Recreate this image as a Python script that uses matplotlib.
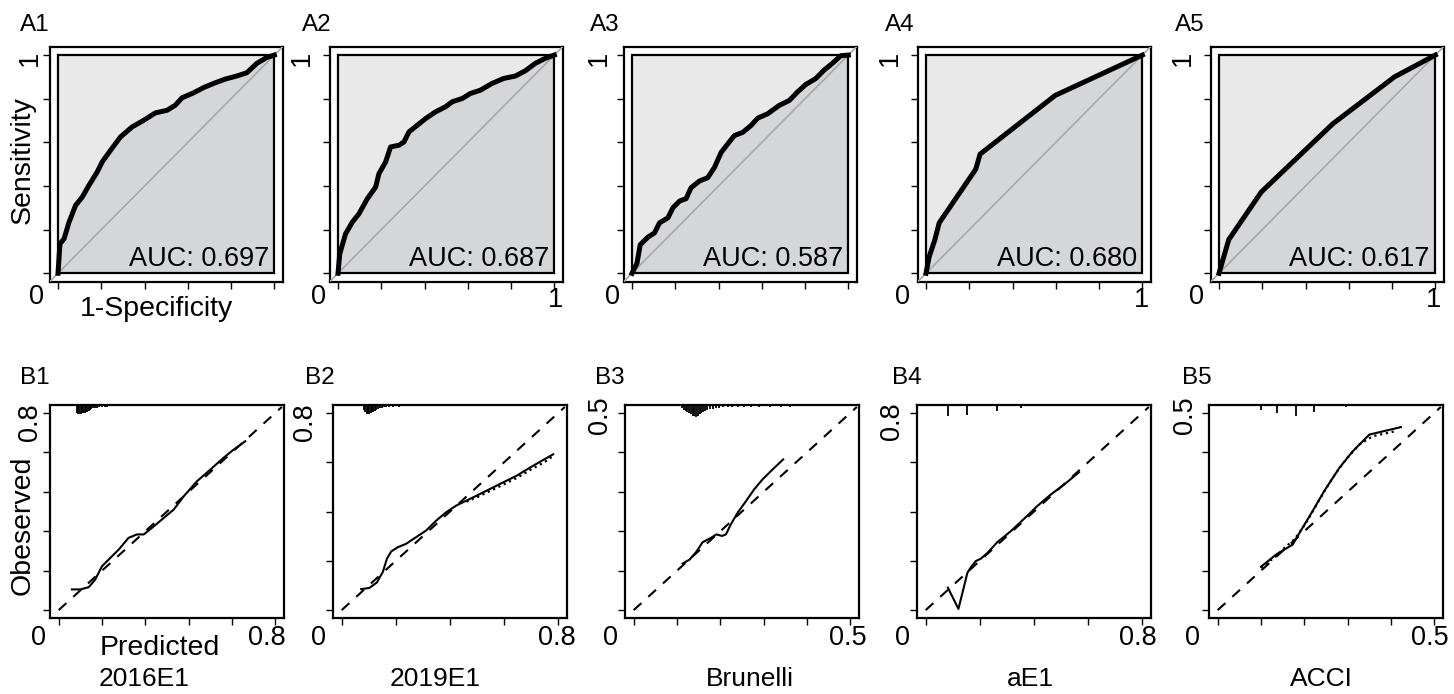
import matplotlib.pyplot as plt
from matplotlib.patches import Rectangle
import numpy as np

plt.rcParams['font.family'] = ['Liberation Sans', 'DejaVu Sans']

# --------------------------------------------------------------------------------------------------
# ROC curves (1-specificity, sensitivity)
a1_fpr = [0, 0.009, 0.028, 0.051, 0.081, 0.112, 0.143, 0.181, 0.204, 0.243, 0.289, 0.343, 0.396,
          0.450, 0.504, 0.542, 0.573, 0.627, 0.673, 0.719, 0.773, 0.826, 0.873, 0.919, 0.965, 1]
a1_tpr = [0, 0.135, 0.158, 0.234, 0.311, 0.349, 0.403, 0.464, 0.510, 0.564, 0.625, 0.671, 0.701,
          0.735, 0.747, 0.770, 0.804, 0.827, 0.851, 0.870, 0.890, 0.904, 0.919, 0.962, 0.989, 1]

a2_fpr = [0, 0.008, 0.035, 0.066, 0.097, 0.135, 0.174, 0.189, 0.220, 0.243, 0.282, 0.305, 0.328,
          0.366, 0.405, 0.451, 0.497, 0.528, 0.574, 0.612, 0.658, 0.712, 0.766, 0.820, 0.866,
          0.912, 0.958, 1]
a2_tpr = [0, 0.089, 0.181, 0.234, 0.273, 0.341, 0.395, 0.456, 0.510, 0.579, 0.587, 0.602, 0.648,
          0.678, 0.709, 0.740, 0.763, 0.786, 0.801, 0.824, 0.839, 0.870, 0.893, 0.904, 0.928,
          0.962, 0.985, 1]

a3_fpr = [0, 0.023, 0.038, 0.074, 0.104, 0.127, 0.166, 0.189, 0.220, 0.250, 0.273, 0.312, 0.350,
          0.381, 0.412, 0.442, 0.473, 0.512, 0.550, 0.581, 0.627, 0.680, 0.727, 0.765, 0.803,
          0.849, 0.888, 0.926, 0.965, 1]
a3_tpr = [0, 0.046, 0.131, 0.166, 0.185, 0.231, 0.254, 0.300, 0.331, 0.342, 0.392, 0.423, 0.438,
          0.485, 0.554, 0.592, 0.631, 0.646, 0.677, 0.711, 0.731, 0.769, 0.792, 0.831, 0.865,
          0.892, 0.931, 0.962, 0.997, 1]

a4_fpr = [0, 0.015, 0.041, 0.061, 0.230, 0.250, 0.597, 1]
a4_tpr = [0, 0.077, 0.154, 0.231, 0.477, 0.546, 0.815, 1]

a5_fpr = [0, 0.045, 0.195, 0.526, 0.811, 1]
a5_tpr = [0, 0.154, 0.372, 0.685, 0.900, 1]

auc_text = ['AUC: 0.697', 'AUC: 0.687', 'AUC: 0.587', 'AUC: 0.680', 'AUC: 0.617']

# --------------------------------------------------------------------------------------------------
# Calibration curves (predicted, observed)
b1_pred = [0.049, 0.080, 0.111, 0.135, 0.160, 0.191, 0.222, 0.258, 0.289, 0.314, 0.345, 0.388,
           0.425, 0.462, 0.511, 0.560, 0.609, 0.646, 0.689]
b1_obs = [0.084, 0.084, 0.093, 0.124, 0.178, 0.212, 0.246, 0.293, 0.307, 0.307, 0.334, 0.374,
          0.408, 0.462, 0.523, 0.570, 0.618, 0.651, 0.685]

b2_pred = [0.072, 0.102, 0.130, 0.152, 0.167, 0.183, 0.207, 0.238, 0.275, 0.312, 0.349, 0.386,
           0.423, 0.460, 0.498, 0.547, 0.596, 0.646, 0.695, 0.744, 0.781]
b2_obs = [0.085, 0.090, 0.112, 0.155, 0.208, 0.238, 0.255, 0.269, 0.296, 0.323, 0.363, 0.397,
          0.424, 0.444, 0.464, 0.491, 0.518, 0.545, 0.578, 0.609, 0.632]
b2_dot_pred = [0.46, 0.50, 0.55, 0.60, 0.65, 0.70, 0.75, 0.78]
b2_dot_obs = [0.440, 0.458, 0.484, 0.511, 0.538, 0.571, 0.601, 0.625]

b3_pred = [0.113, 0.129, 0.144, 0.159, 0.178, 0.191, 0.204, 0.213, 0.224, 0.240, 0.259, 0.278,
           0.297, 0.320, 0.345]
b3_obs = [0.118, 0.128, 0.147, 0.172, 0.183, 0.192, 0.188, 0.192, 0.217, 0.247, 0.276, 0.306,
          0.331, 0.356, 0.382]

b4_pred = [0.082, 0.121, 0.154, 0.166, 0.185, 0.203, 0.228, 0.265, 0.314, 0.363, 0.412, 0.462,
           0.511, 0.566]
b4_obs = [0.091, 0.005, 0.151, 0.172, 0.199, 0.208, 0.232, 0.276, 0.320, 0.370, 0.422, 0.469,
          0.509, 0.559]

b5_pred = [0.100, 0.135, 0.173, 0.196, 0.219, 0.246, 0.281, 0.312, 0.350, 0.423]
b5_obs = [0.110, 0.141, 0.166, 0.209, 0.251, 0.302, 0.361, 0.403, 0.445, 0.464]
b5_dot_pred = [0.100, 0.135, 0.154, 0.177, 0.204, 0.235, 0.265, 0.296, 0.327, 0.358, 0.412]
b5_dot_obs = [0.107, 0.137, 0.158, 0.179, 0.221, 0.280, 0.335, 0.382, 0.420, 0.441, 0.454]

# distribution of predictions (spikes hanging from the top)
b1_spike_x = [0.066, 0.071, 0.076, 0.081, 0.086, 0.091, 0.096, 0.101, 0.106, 0.111, 0.116, 0.121,
              0.128, 0.135, 0.142, 0.150, 0.160, 0.170, 0.180, 0.192, 0.205, 0.220, 0.240, 0.260,
              0.285]
b1_spike_h = [0.032, 0.036, 0.037, 0.035, 0.034, 0.033, 0.031, 0.030, 0.028, 0.026, 0.020, 0.016,
              0.013, 0.012, 0.011, 0.010, 0.008, 0.007, 0.007, 0.006, 0.006, 0.006, 0.006, 0.006,
              0.006]
b2_spike_x = [0.082, 0.087, 0.092, 0.097, 0.102, 0.107, 0.112, 0.117, 0.122, 0.127, 0.133, 0.140,
              0.148, 0.156, 0.165, 0.175, 0.190, 0.210, 0.230, 0.255, 0.280, 0.310, 0.350, 0.400,
              0.450, 0.500, 0.560, 0.620, 0.680, 0.740, 0.790]
b2_spike_h = [0.022, 0.030, 0.036, 0.038, 0.035, 0.032, 0.030, 0.028, 0.026, 0.022, 0.018, 0.014,
              0.012, 0.010, 0.009, 0.008, 0.007, 0.007, 0.006, 0.006, 0.006, 0.006, 0.006, 0.006,
              0.006, 0.006, 0.006, 0.006, 0.006, 0.006, 0.006]
b3_spike_x = [0.112, 0.116, 0.120, 0.124, 0.128, 0.132, 0.136, 0.140, 0.144, 0.148, 0.152, 0.156,
              0.160, 0.165, 0.170, 0.176, 0.183, 0.190, 0.198, 0.207, 0.217, 0.228, 0.240, 0.255,
              0.270, 0.290, 0.315, 0.340, 0.360]
b3_spike_h = [0.008, 0.012, 0.015, 0.018, 0.021, 0.024, 0.027, 0.029, 0.030, 0.028, 0.024, 0.021,
              0.018, 0.015, 0.013, 0.011, 0.009, 0.008, 0.007, 0.006, 0.006, 0.005, 0.005, 0.004,
              0.004, 0.004, 0.004, 0.004, 0.004]
b4_spike_x = [0.082, 0.151, 0.262, 0.351, 0.443, 0.535]
b4_spike_h = [0.043, 0.040, 0.023, 0.011, 0.006, 0.005]
b5_spike_x = [0.100, 0.138, 0.181, 0.223, 0.296, 0.365]
b5_spike_h = [0.013, 0.021, 0.027, 0.017, 0.004, 0.003]

model_names = ['2016E1', '2019E1', 'Brunelli', 'aE1', 'ACCI']
b_lims = [0.8, 0.8, 0.5, 0.8, 0.5]
b_lim_labels = ['0.8', '0.8', '0.5', '0.8', '0.5']
b_nticks = [6, 5, 6, 5, 6]

# --------------------------------------------------------------------------------------------------
W, H = 1454, 694
fig = plt.figure(figsize=(W / 100, H / 100), dpi=100)
FS = 19.5
LIGHT = '#e9e9e9'
DARK = '#d5d6d8'


def px_axes(left, top, width, height):
    return fig.add_axes([left / W, 1 - (top + height) / H, width / W, height / H])


def ftext(x, y, s, **kw):
    kw.setdefault('fontsize', FS)
    kw.setdefault('ha', 'center')
    kw.setdefault('va', 'center')
    fig.text(x / W, 1 - y / H, s, **kw)


def style_axes(ax, ticks):
    ax.set_xticks(ticks)
    ax.set_yticks(ticks)
    ax.set_xticklabels([])
    ax.set_yticklabels([])
    ax.tick_params(direction='out', length=5, width=1, color='black')
    for sp in ax.spines.values():
        sp.set_linewidth(1.6)


# --- top row: ROC ---
roc_data = [(a1_fpr, a1_tpr), (a2_fpr, a2_tpr), (a3_fpr, a3_tpr), (a4_fpr, a4_tpr), (a5_fpr, a5_tpr)]
a_left = [50, 330, 624, 918, 1211]

for i, (fpr, tpr) in enumerate(roc_data):
    ax = px_axes(a_left[i], 47, 233, 235)
    ax.set_xlim(-0.037, 1.04)
    ax.set_ylim(-0.04, 1.037)
    ax.add_patch(Rectangle((0, 0), 1, 1, facecolor=LIGHT, edgecolor='none', zorder=1))
    ax.fill_between(fpr, 0, tpr, color=DARK, lw=0, zorder=2)
    ax.plot([-0.05, 1.05], [-0.05, 1.05], color='#a8a8a8', lw=1.2, zorder=3)
    ax.add_patch(Rectangle((0, 0), 1, 1, facecolor='none', edgecolor='black', lw=1.6, zorder=4))
    ax.plot(fpr, tpr, color='black', lw=3.6, solid_joinstyle='round', zorder=5)
    ax.text(0.975, 0.035, auc_text[i], ha='right', va='baseline', fontsize=FS, zorder=6)
    style_axes(ax, np.linspace(0, 1, 6))

for lbl, x in zip(['A1', 'A2', 'A3', 'A4', 'A5'], [20, 302, 590, 885, 1175]):
    ftext(x, 25, lbl, ha='left', fontsize=17.5)
for x in [30, 302, 599, 890, 1183]:
    ftext(x, 58, '1', rotation=90)
for x in [37, 318, 613, 903, 1197]:
    ftext(x, 297, '0')
for x in [555, 1142, 1433]:
    ftext(x, 300, '1')
ftext(23, 160, 'Sensitivity', rotation=90, fontsize=20.5)
ftext(157, 309, '1-Specificity', fontsize=20.5)

# --- bottom row: calibration ---
cal_data = [(b1_pred, b1_obs), (b2_pred, b2_obs), (b3_pred, b3_obs), (b4_pred, b4_obs), (b5_pred, b5_obs)]
dot_data = [None, (b2_dot_pred, b2_dot_obs), None, None, (b5_dot_pred, b5_dot_obs)]
spikes = [(b1_spike_x, b1_spike_h), (b2_spike_x, b2_spike_h), (b3_spike_x, b3_spike_h),
          (b4_spike_x, b4_spike_h), (b5_spike_x, b5_spike_h)]
b_left = [50, 333, 625, 917, 1209]

for i, (pred, obs) in enumerate(cal_data):
    lim = b_lims[i]
    ax = px_axes(b_left[i], 405, 234, 213)
    top = 1.04 * lim
    ax.set_xlim(-0.04 * lim, 1.04 * lim)
    ax.set_ylim(-0.04 * lim, top)
    ax.plot([0, 1.03 * lim], [0, 1.03 * lim], color='black', lw=1.5, dashes=(5, 4.5))
    if dot_data[i] is not None:
        ax.plot(dot_data[i][0], dot_data[i][1], color='black', lw=1.6, ls=':')
    ax.plot(pred, obs, color='black', lw=1.5)
    sx, sh = spikes[i]
    ax.vlines(sx, [top - h for h in sh], top, color='black', lw=1.3)
    style_axes(ax, np.linspace(0, lim, b_nticks[i]))

for lbl, x in zip(['B1', 'B2', 'B3', 'B4', 'B5'], [20, 305, 595, 892, 1182]):
    ftext(x, 378, lbl, ha='left', fontsize=17.5)
for (x, y), s in zip([(30, 422), (305, 422), (600, 415), (892, 421), (1185, 415)], b_lim_labels):
    ftext(x, y, s, rotation=90)
for x in [38, 318, 610, 902, 1193]:
    ftext(x, 638, '0')
for x, s in zip([267, 557, 848, 1138, 1430], b_lim_labels):
    ftext(x, 638, s)
ftext(23, 525, 'Obeserved', rotation=90, fontsize=20.5)
ftext(160, 648, 'Predicted', fontsize=20.5)
for x, name in zip([144, 435, 750, 1030, 1321], model_names):
    ftext(x, 679, name, fontsize=19)

plt.savefig('out.png', dpi=100)
